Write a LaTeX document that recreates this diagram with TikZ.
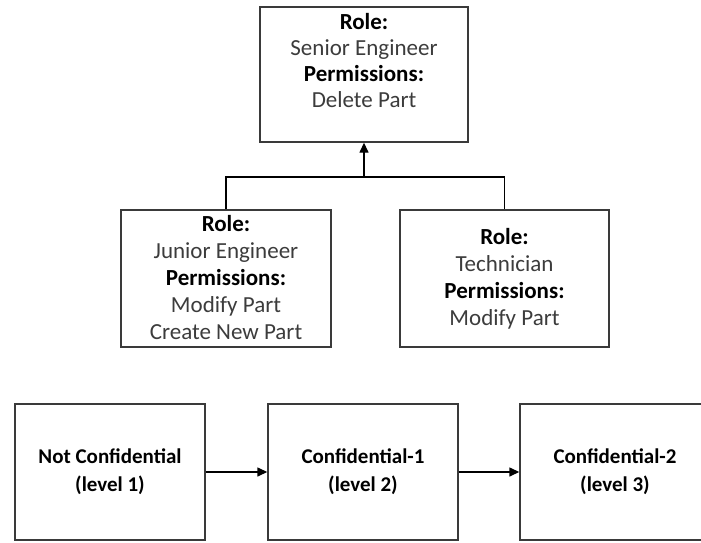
\documentclass[tikz,border=0pt]{standalone}
\usepackage{fontspec}
\setmainfont{Carlito}
\usetikzlibrary{arrows.meta}
\definecolor{boxline}{HTML}{3A3A3A}
\definecolor{bodytext}{HTML}{3C3C3C}
\begin{document}
\begin{tikzpicture}[x=1pt,y=-1pt,
  card/.style={draw=boxline, line width=1.4pt, fill=white, inner sep=0pt},
  cardtext/.style={align=center, font=\fontsize{23}{27}\selectfont, text=bodytext, inner sep=0pt},
  leveltext/.style={card, align=center, font=\fontsize{21}{28}\selectfont\bfseries, text=black},
  link/.style={line width=1.4pt, draw=black},
  flow/.style={link, -{Triangle[length=10pt,width=9pt]}},
]
\useasboundingbox (0,0) rectangle (701,543);
\clip (0,0) rectangle (701,543);

% role hierarchy
\node[card, minimum width=208pt, minimum height=135pt] (senior) at (364,74.5) {};
\node[cardtext, font=\fontsize{23}{26}\selectfont] (seniortext) at (364,61)
  {{\color{black}\bfseries Role:}\\Senior Engineer\\{\color{black}\bfseries Permissions:}\\Delete Part};

\node[card, minimum width=210pt, minimum height=137pt] (junior) at (226,278.5) {};
\node[cardtext] (juniortext) at (226,278)
  {{\color{black}\bfseries Role:}\\Junior Engineer\\{\color{black}\bfseries Permissions:}\\Modify Part\\Create New Part};

\node[card, minimum width=209pt, minimum height=137pt] (tech) at (504.5,278.5) {};
\node[cardtext] (techtext) at (504.5,279)
  {{\color{black}\bfseries Role:}\\Technician\\{\color{black}\bfseries Permissions:}\\Modify Part};

\coordinate (bus) at (0,177);
\draw[link] (junior.north) -- (junior.north |- bus) -- (tech.north |- bus) -- (tech.north);
\draw[flow] (senior.south |- bus) -- (senior.south);

% confidentiality levels
\node[leveltext, minimum width=190pt, minimum height=136pt] (lvl1) at (110,472) {Not Confidential\\(level 1)};
\node[leveltext, minimum width=190pt, minimum height=136pt] (lvl2) at (363,472) {Confidential-1\\(level 2)};
\node[leveltext, minimum width=190pt, minimum height=136pt] (lvl3) at (615,472) {Confidential-2\\(level 3)};

\draw[flow] (lvl1) -- (lvl2);
\draw[flow] (lvl2) -- (lvl3);
\end{tikzpicture}
\end{document}
